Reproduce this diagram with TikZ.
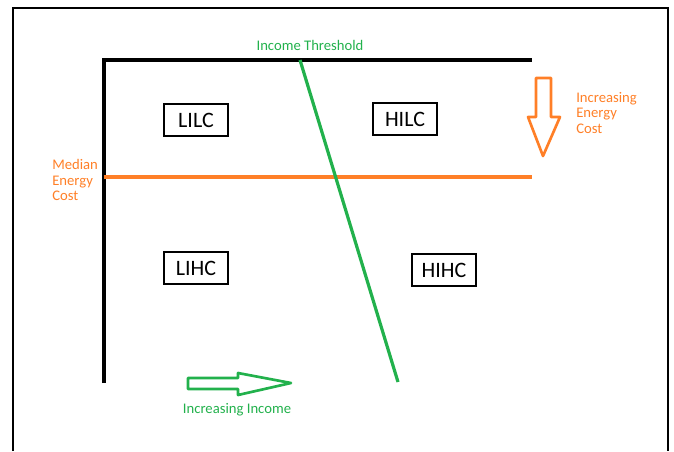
\documentclass[tikz,border=0pt]{standalone}
\usepackage{fontspec}
\setmainfont{Carlito}
\definecolor{pgreen}{RGB}{34,177,76}
\definecolor{porange}{RGB}{255,127,39}
\begin{document}
\begin{tikzpicture}[x=0.75pt,y=-0.75pt,
  lbl/.style={draw=black,line width=1.5pt,minimum width=48pt,minimum height=24pt,inner sep=2pt,font=\fontsize{16.5}{18}\selectfont},
  gtxt/.style={text=pgreen,font=\fontsize{11}{13}\selectfont,inner sep=0pt},
  otxt/.style={text=porange,font=\fontsize{11}{11.4}\selectfont,align=left,inner sep=0pt}]
\useasboundingbox (0,0) rectangle (674,451);
% frame
\draw[line width=1.2pt] (13,451) -- (13,8) -- (668,8) -- (668,451);
% axes
\coordinate (tl) at (104,60);
\coordinate (tr) at (532,60);
\coordinate (bl) at (104,383);
\draw[line width=2.6pt] (bl) -- (tl) -- (tr);
% median cost line
\coordinate (ml) at (104,177);
\coordinate (mr) at (532,177);
\draw[porange,line width=2.6pt] (ml) -- (mr);
% threshold line
\coordinate (ts) at (300,60);
\coordinate (te) at (398,382);
\draw[pgreen,line width=2.4pt] (ts) -- (te);
\node[gtxt] (thr) at (310,45) {Income Threshold};
% boxes
\node[lbl] (lilc) at (196,120) {LILC};
\node[lbl] (hilc) at (405,119) {HILC};
\node[lbl] (lihc) at (196,268) {LIHC};
\node[lbl] (hihc) at (444,270) {HIHC};
% orange arrow
\draw[porange,line width=2pt,line join=round] (536,78) -- (551,78) -- (551,117) -- (560,117) -- (543,156) -- (528,117) -- (536,117) -- cycle;
\node[otxt,anchor=west] (iec) at (576,113) {Increasing\\Energy\\Cost};
\node[otxt,anchor=west] (mec) at (52,180) {Median\\Energy\\Cost};
% green arrow
\draw[pgreen,line width=2pt,line join=round] (188,378) -- (238,378) -- (238,373) -- (291,383) -- (238,395) -- (238,389) -- (188,389) -- cycle;
\node[gtxt] (ii) at (237,410) {Increasing Income};
\end{tikzpicture}
\end{document}
